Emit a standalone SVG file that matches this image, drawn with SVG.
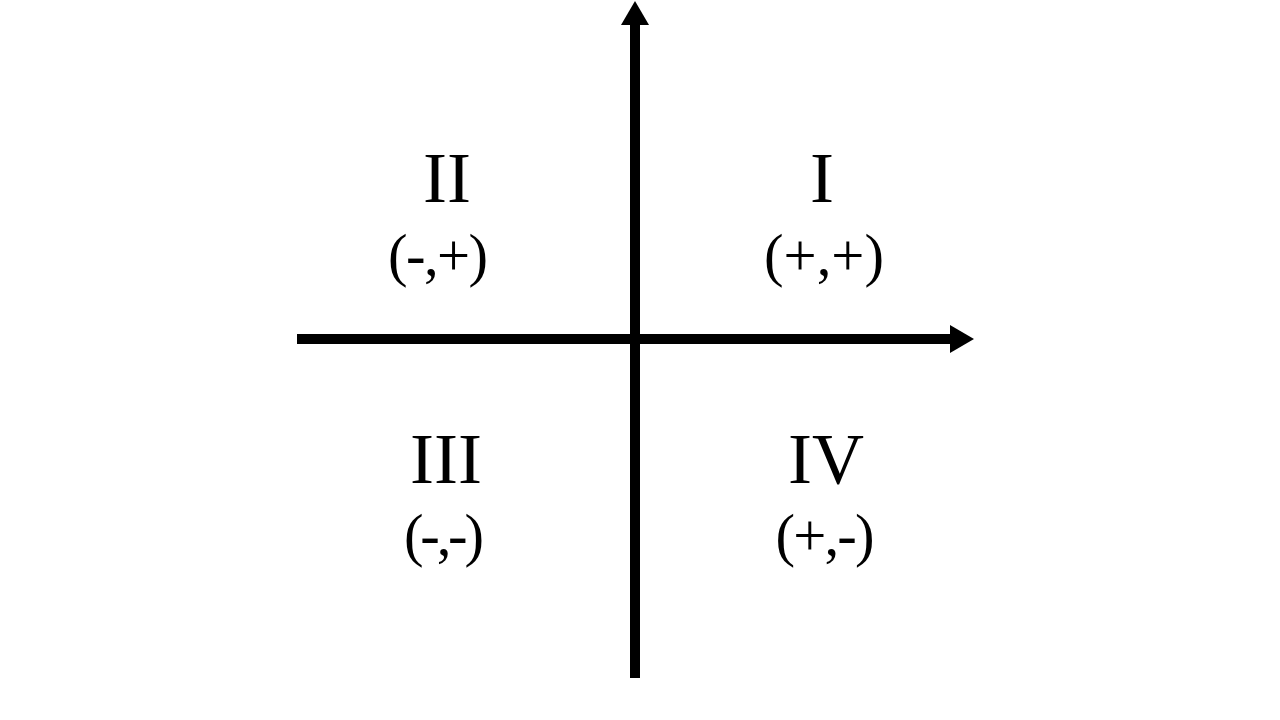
<svg xmlns="http://www.w3.org/2000/svg" width="1280" height="720" viewBox="0 0 1280 720">
  <style>
    .axis { stroke: #000; stroke-width: 10; fill: none; }
    .head { fill: #000; stroke: none; }
    .num { font-family: "Liberation Serif", "Times New Roman", serif; font-size: 72px; fill: #000; text-anchor: middle; }
    .sign { font-family: "Liberation Serif", "Times New Roman", serif; font-size: 58.7px; fill: #000; text-anchor: middle; }
  </style>
  <rect width="1280" height="720" fill="#fff"/>
  <g id="connectors">
    <line class="axis" x1="635" y1="678" x2="635" y2="24"/>
    <polygon class="head" points="635,1 621,25 649,25"/>
    <line class="axis" x1="297" y1="339" x2="951" y2="339"/>
    <polygon class="head" points="974,339 950,325 950,353"/>
  </g>
  <g id="q2">
    <text class="num" x="447" y="202">II</text>
    <text class="sign" x="438" y="275" textLength="100">(-,+)</text>
  </g>
  <g id="q1">
    <text class="num" x="822" y="202">I</text>
    <text class="sign" x="824" y="275">(+,+)</text>
  </g>
  <g id="q3">
    <text class="num" x="446" y="483">III</text>
    <text class="sign" x="444" y="555" textLength="80">(-,-)</text>
  </g>
  <g id="q4">
    <text class="num" x="826" y="483">IV</text>
    <text class="sign" x="825" y="555" textLength="99">(+,-)</text>
  </g>
</svg>
